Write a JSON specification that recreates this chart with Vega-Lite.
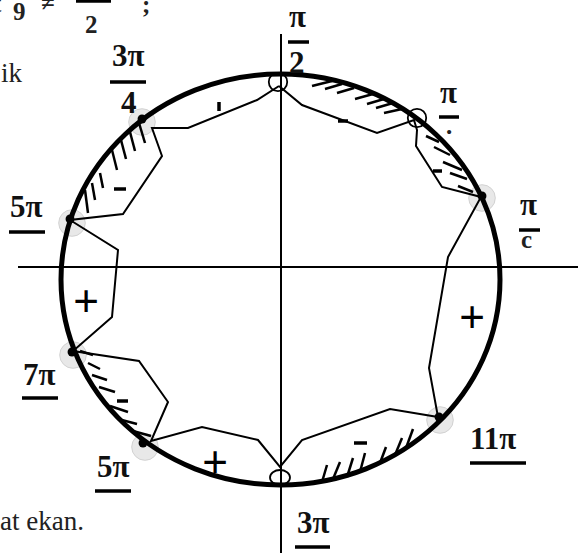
{
  "$schema": "https://vega.github.io/schema/vega-lite/v6.json",
  "width": 578,
  "height": 553,
  "autosize": {"type": "none"},
  "padding": 0,
  "background": "white",
  "config": {"view": {"stroke": null}},
  "datasets": {
    "circle": [{"x": 280.5, "y": 279.5}],
    "poly": [
      {"i": 0, "x": 279, "y": 86}, {"i": 1, "x": 302, "y": 105}, {"i": 2, "x": 377, "y": 133},
      {"i": 3, "x": 414, "y": 120}, {"i": 4, "x": 417, "y": 130}, {"i": 5, "x": 416, "y": 146},
      {"i": 6, "x": 442, "y": 187}, {"i": 7, "x": 481, "y": 197}, {"i": 8, "x": 448, "y": 257},
      {"i": 9, "x": 429, "y": 368}, {"i": 10, "x": 438, "y": 417}, {"i": 11, "x": 390, "y": 409},
      {"i": 12, "x": 302, "y": 440}, {"i": 13, "x": 280, "y": 467}, {"i": 14, "x": 258, "y": 440},
      {"i": 15, "x": 202, "y": 427}, {"i": 16, "x": 151, "y": 441}, {"i": 17, "x": 168, "y": 402},
      {"i": 18, "x": 139, "y": 361}, {"i": 19, "x": 73, "y": 351}, {"i": 20, "x": 112, "y": 317},
      {"i": 21, "x": 118, "y": 250}, {"i": 22, "x": 70, "y": 220}, {"i": 23, "x": 123, "y": 214},
      {"i": 24, "x": 162, "y": 156}, {"i": 25, "x": 152, "y": 128}, {"i": 26, "x": 188, "y": 128},
      {"i": 27, "x": 257, "y": 100}, {"i": 28, "x": 279, "y": 86}
    ],
    "hatch": [
      {"x": 312, "y": 86, "x2": 332, "y2": 81}, {"x": 325, "y": 89, "x2": 342, "y2": 84},
      {"x": 337, "y": 93, "x2": 354, "y2": 88}, {"x": 355, "y": 99, "x2": 373, "y2": 94},
      {"x": 367, "y": 104, "x2": 384, "y2": 99}, {"x": 376, "y": 108, "x2": 393, "y2": 103},
      {"x": 384, "y": 113, "x2": 402, "y2": 109},
      {"x": 426, "y": 136, "x2": 439, "y2": 142}, {"x": 434, "y": 147, "x2": 450, "y2": 155},
      {"x": 443, "y": 162, "x2": 462, "y2": 170}, {"x": 450, "y": 173, "x2": 467, "y2": 179},
      {"x": 458, "y": 186, "x2": 473, "y2": 192},
      {"x": 322, "y": 482, "x2": 327, "y2": 465}, {"x": 333, "y": 479, "x2": 340, "y2": 462},
      {"x": 347, "y": 477, "x2": 353, "y2": 458}, {"x": 360, "y": 472, "x2": 365, "y2": 453},
      {"x": 380, "y": 463, "x2": 386, "y2": 447}, {"x": 395, "y": 455, "x2": 402, "y2": 438},
      {"x": 406, "y": 448, "x2": 413, "y2": 429},
      {"x": 80, "y": 351, "x2": 93, "y2": 355}, {"x": 88, "y": 363, "x2": 100, "y2": 369},
      {"x": 92, "y": 375, "x2": 107, "y2": 380}, {"x": 99, "y": 387, "x2": 115, "y2": 392},
      {"x": 110, "y": 406, "x2": 128, "y2": 412}, {"x": 118, "y": 419, "x2": 137, "y2": 424},
      {"x": 133, "y": 431, "x2": 151, "y2": 436},
      {"x": 85, "y": 190, "x2": 88, "y2": 213}, {"x": 92, "y": 183, "x2": 95, "y2": 200},
      {"x": 100, "y": 173, "x2": 103, "y2": 188}, {"x": 112, "y": 150, "x2": 117, "y2": 170},
      {"x": 121, "y": 140, "x2": 126, "y2": 159}, {"x": 130, "y": 132, "x2": 135, "y2": 151},
      {"x": 139, "y": 123, "x2": 145, "y2": 143}
    ],
    "minus": [
      {"x": 338, "y": 121, "x2": 348, "y2": 121}, {"x": 433, "y": 171, "x2": 442, "y2": 171},
      {"x": 117, "y": 401, "x2": 128, "y2": 401}, {"x": 354, "y": 443, "x2": 367, "y2": 443},
      {"x": 114, "y": 189, "x2": 126, "y2": 189}, {"x": 219, "y": 102, "x2": 219, "y2": 111}
    ],
    "axes": [
      {"x": 18, "y": 267, "x2": 578, "y2": 267},
      {"x": 281, "y": 34, "x2": 281, "y2": 553}
    ],
    "bars": [
      {"x": 110, "y": 82, "x2": 146, "y2": 82}, {"x": 288, "y": 42, "x2": 309, "y2": 42},
      {"x": 439, "y": 117, "x2": 459, "y2": 117}, {"x": 519, "y": 230, "x2": 540, "y2": 230},
      {"x": 9, "y": 232, "x2": 45, "y2": 232}, {"x": 22, "y": 398, "x2": 58, "y2": 398},
      {"x": 95, "y": 491, "x2": 131, "y2": 491}, {"x": 470, "y": 463, "x2": 526, "y2": 463},
      {"x": 295, "y": 547, "x2": 330, "y2": 547}, {"x": 76, "y": 1, "x2": 111, "y2": 1}
    ],
    "halo": [
      {"x": 142, "y": 122}, {"x": 482, "y": 198}, {"x": 440, "y": 420},
      {"x": 145, "y": 447}, {"x": 73, "y": 355}, {"x": 72, "y": 223}
    ],
    "dot": [
      {"x": 142, "y": 119}, {"x": 482, "y": 196}, {"x": 439, "y": 417},
      {"x": 143, "y": 443}, {"x": 72, "y": 352}, {"x": 70, "y": 219}
    ],
    "open": [{"x": 278, "y": 82}, {"x": 417, "y": 118}],
    "open3": [{"x": 280, "y": 477.5}],
    "labels": [
      {"x": 112, "y": 66, "t": "3π"}, {"x": 121, "y": 113, "t": "4"},
      {"x": 289, "y": 27, "t": "π"}, {"x": 289, "y": 73, "t": "2"},
      {"x": 440, "y": 103, "t": "π"}, {"x": 520, "y": 215, "t": "π"},
      {"x": 10, "y": 217, "t": "5π"}, {"x": 23, "y": 385, "t": "7π"},
      {"x": 97, "y": 477, "t": "5π"}, {"x": 470, "y": 449, "t": "11π"},
      {"x": 297, "y": 533, "t": "3π"}
    ],
    "smalllabels": [
      {"x": 13, "y": 20, "t": "9"}, {"x": 85, "y": 33, "t": "2"},
      {"x": -7, "y": 12, "t": "t"}, {"x": 41, "y": 11, "t": "≠"}, {"x": 142, "y": 13, "t": ";"},
      {"x": 446, "y": 134, "t": "."}, {"x": 521, "y": 248, "t": "c"}
    ],
    "signs": [
      {"x": 86, "y": 316, "t": "+"}, {"x": 472, "y": 332, "t": "+"}, {"x": 215, "y": 477, "t": "+"}
    ],
    "prose": [
      {"x": 1, "y": 82, "t": "ik"}, {"x": 0, "y": 530, "t": "at ekan."}
    ]
  },
  "encoding": {
    "x": {"field": "x", "type": "quantitative", "axis": null, "scale": {"domain": [0, 578], "nice": false, "zero": false}},
    "y": {"field": "y", "type": "quantitative", "axis": null, "scale": {"domain": [0, 553], "reverse": true, "nice": false, "zero": false}}
  },
  "layer": [
    {
      "data": {"name": "axes"},
      "mark": {"type": "rule", "color": "black", "strokeWidth": 2},
      "encoding": {"x2": {"field": "x2"}, "y2": {"field": "y2"}}
    },
    {
      "data": {"name": "halo"},
      "mark": {"type": "point", "shape": "circle", "filled": true, "size": 707, "color": "#e8e8e8", "opacity": 1, "stroke": "#d2d2d2", "strokeWidth": 1}
    },
    {
      "data": {"name": "circle"},
      "mark": {"type": "point", "shape": "M 1 0 C 1 0.517 0.5523 0.936 0 0.936 C -0.5523 0.936 -1 0.517 -1 0 C -1 -0.517 -0.5523 -0.936 0 -0.936 C 0.5523 -0.936 1 -0.517 1 0 Z", "size": 192721, "filled": false, "stroke": "black", "strokeWidth": 5, "opacity": 1}
    },
    {
      "data": {"name": "hatch"},
      "mark": {"type": "rule", "color": "black", "strokeWidth": 2.5},
      "encoding": {"x2": {"field": "x2"}, "y2": {"field": "y2"}}
    },
    {
      "data": {"name": "minus"},
      "mark": {"type": "rule", "color": "black", "strokeWidth": 3.5},
      "encoding": {"x2": {"field": "x2"}, "y2": {"field": "y2"}}
    },
    {
      "data": {"name": "bars"},
      "mark": {"type": "rule", "color": "black", "strokeWidth": 3.5},
      "encoding": {"x2": {"field": "x2"}, "y2": {"field": "y2"}}
    },
    {
      "data": {"name": "poly"},
      "mark": {"type": "line", "color": "black", "strokeWidth": 2, "strokeJoin": "miter"},
      "encoding": {"order": {"field": "i", "type": "quantitative"}}
    },
    {
      "data": {"name": "dot"},
      "mark": {"type": "point", "shape": "circle", "filled": true, "size": 79, "color": "black", "opacity": 1}
    },
    {
      "data": {"name": "open"},
      "mark": {"type": "point", "shape": "circle", "filled": false, "size": 340, "stroke": "black", "strokeWidth": 1.8, "opacity": 1}
    },
    {
      "data": {"name": "open3"},
      "mark": {"type": "point", "shape": "M 1 0 C 1 0.414 0.5523 0.75 0 0.75 C -0.5523 0.75 -1 0.414 -1 0 C -1 -0.414 -0.5523 -0.75 0 -0.75 C 0.5523 -0.75 1 -0.414 1 0 Z", "size": 400, "filled": false, "stroke": "black", "strokeWidth": 1.8, "opacity": 1}
    },
    {
      "data": {"name": "labels"},
      "mark": {"type": "text", "align": "left", "baseline": "alphabetic", "font": "Liberation Serif", "fontSize": 31, "fontWeight": "bold", "color": "#111"},
      "encoding": {"text": {"field": "t"}}
    },
    {
      "data": {"name": "smalllabels"},
      "mark": {"type": "text", "align": "left", "baseline": "alphabetic", "font": "Liberation Serif", "fontSize": 25, "fontWeight": "bold", "color": "#222"},
      "encoding": {"text": {"field": "t"}}
    },
    {
      "data": {"name": "signs"},
      "mark": {"type": "text", "align": "center", "baseline": "alphabetic", "font": "Liberation Sans", "fontSize": 44, "color": "black"},
      "encoding": {"text": {"field": "t"}}
    },
    {
      "data": {"name": "prose"},
      "mark": {"type": "text", "align": "left", "baseline": "alphabetic", "font": "Liberation Serif", "fontSize": 27, "color": "#222"},
      "encoding": {"text": {"field": "t"}}
    }
  ]
}
